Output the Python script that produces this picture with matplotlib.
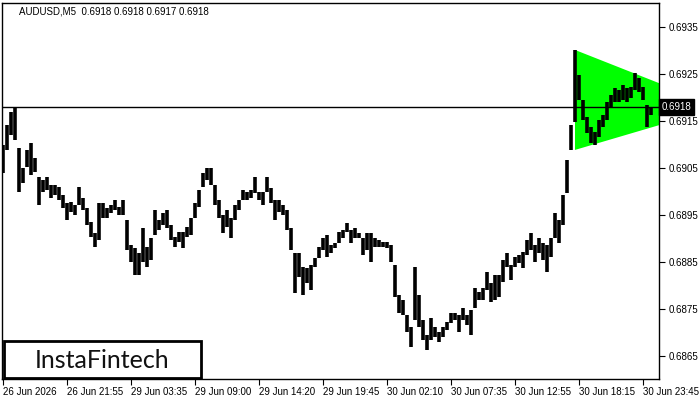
import matplotlib
matplotlib.use("Agg")
import matplotlib.pyplot as plt
from matplotlib.patches import Polygon, Rectangle
import matplotlib.transforms as mtransforms

highs = [0.69099, 0.69142, 0.69169, 0.69178, 0.69093, 0.69050, 0.69089, 0.69103, 0.69071, 0.69031,
         0.69025, 0.69031, 0.69014, 0.69014, 0.69010, 0.68993, 0.68976, 0.68978, 0.68971, 0.69010,
         0.68986, 0.68965, 0.68935, 0.68912, 0.68976, 0.68976, 0.68965, 0.68971, 0.68982, 0.68967,
         0.68982, 0.68939, 0.68886, 0.68880, 0.68869, 0.68922, 0.68882, 0.68901, 0.68961, 0.68939,
         0.68954, 0.68961, 0.68929, 0.68903, 0.68914, 0.68914, 0.68924, 0.68944, 0.68976, 0.69003,
         0.69040, 0.69050, 0.69050, 0.69014, 0.68982, 0.68950, 0.68961, 0.68944, 0.68971, 0.68982,
         0.69003, 0.68999, 0.69003, 0.69031, 0.68999, 0.68999, 0.69031, 0.69008, 0.68982, 0.68982,
         0.68971, 0.68961, 0.68922, 0.68869, 0.68869, 0.68839, 0.68837, 0.68844, 0.68858, 0.68882,
         0.68901, 0.68907, 0.68886, 0.68890, 0.68914, 0.68918, 0.68933, 0.68918, 0.68922, 0.68912,
         0.68901, 0.68912, 0.68912, 0.68901, 0.68897, 0.68893, 0.68893, 0.68886, 0.68844, 0.68780,
         0.68769, 0.68737, 0.68711, 0.68839, 0.68780, 0.68726, 0.68694, 0.68731, 0.68711, 0.68701,
         0.68711, 0.68722, 0.68741, 0.68741, 0.68737, 0.68752, 0.68737, 0.68748, 0.68795, 0.68786,
         0.68795, 0.68829, 0.68805, 0.68822, 0.68822, 0.68854, 0.68869, 0.68844, 0.68861, 0.68865,
         0.68871, 0.68897, 0.68912, 0.68886, 0.68901, 0.68890, 0.68886, 0.68901, 0.68954, 0.68939,
         0.68993, 0.69067, 0.69142, 0.69302, 0.69248, 0.69195, 0.69159, 0.69138, 0.69127, 0.69152,
         0.69163, 0.69191, 0.69206, 0.69221, 0.69216, 0.69227, 0.69221, 0.69223, 0.69252, 0.69242,
         0.69223, 0.69184, 0.69180]
lows = [0.69040, 0.69089, 0.69120, 0.69110, 0.68999, 0.69018, 0.69052, 0.69035, 0.69042, 0.68971,
        0.68999, 0.69003, 0.68986, 0.68993, 0.68982, 0.68965, 0.68939, 0.68956, 0.68950, 0.68971,
        0.68961, 0.68929, 0.68903, 0.68882, 0.68897, 0.68944, 0.68944, 0.68954, 0.68961, 0.68950,
        0.68950, 0.68876, 0.68850, 0.68822, 0.68822, 0.68850, 0.68839, 0.68854, 0.68907, 0.68918,
        0.68929, 0.68922, 0.68897, 0.68882, 0.68893, 0.68880, 0.68903, 0.68907, 0.68944, 0.68967,
        0.69010, 0.69025, 0.69014, 0.68971, 0.68944, 0.68912, 0.68924, 0.68901, 0.68939, 0.68961,
        0.68982, 0.68982, 0.68986, 0.68997, 0.68982, 0.68971, 0.68999, 0.68976, 0.68939, 0.68956,
        0.68950, 0.68918, 0.68876, 0.68784, 0.68818, 0.68780, 0.68805, 0.68790, 0.68839, 0.68858,
        0.68876, 0.68861, 0.68869, 0.68880, 0.68890, 0.68901, 0.68914, 0.68890, 0.68901, 0.68901,
        0.68865, 0.68876, 0.68850, 0.68882, 0.68882, 0.68882, 0.68880, 0.68850, 0.68775, 0.68741,
        0.68737, 0.68701, 0.68669, 0.68726, 0.68711, 0.68684, 0.68663, 0.68684, 0.68690, 0.68680,
        0.68690, 0.68705, 0.68720, 0.68726, 0.68701, 0.68726, 0.68716, 0.68694, 0.68752, 0.68769,
        0.68769, 0.68790, 0.68765, 0.68769, 0.68775, 0.68807, 0.68839, 0.68812, 0.68839, 0.68848,
        0.68837, 0.68865, 0.68876, 0.68850, 0.68869, 0.68854, 0.68829, 0.68861, 0.68901, 0.68890,
        0.68929, 0.68997, 0.69089, 0.69148, 0.69195, 0.69152, 0.69125, 0.69103, 0.69099, 0.69116,
        0.69138, 0.69152, 0.69180, 0.69191, 0.69191, 0.69195, 0.69191, 0.69199, 0.69216, 0.69212,
        0.69195, 0.69138, 0.69163]

x_labels = ['26 Jun 2026', '26 Jun 21:55', '29 Jun 03:35', '29 Jun 09:00', '29 Jun 14:20',
            '29 Jun 19:45', '30 Jun 02:10', '30 Jun 07:35', '30 Jun 12:55', '30 Jun 18:15',
            '30 Jun 23:45']
y_ticks = [0.6865, 0.6875, 0.6885, 0.6895, 0.6905, 0.6915, 0.6925, 0.6935]
last_price = 0.6918
header = 'AUDUSD,M5  0.6918 0.6918 0.6917 0.6918'

# symmetrical triangle pattern: left edge bar, top, bottom and apex
tri_start = 143
tri_top = 0.69302
tri_bottom = 0.69089
tri_apex_x = 179.25

plt.rcParams['font.family'] = ['Liberation Sans', 'DejaVu Sans']

fig = plt.figure(figsize=(7, 4), dpi=100)
ax = fig.add_axes([2 / 700, 21 / 400, 657 / 700, 376 / 400])

# green triangle
tri = Polygon([(tri_start, tri_top), (tri_apex_x, last_price), (tri_start, tri_bottom)],
              closed=True, facecolor='#00ff00', edgecolor='none', zorder=1)
ax.add_patch(tri)

# price bars
xs = list(range(len(highs)))
ax.vlines(xs, lows, highs, color='black', linewidth=2.6, zorder=3)

# last price line
ax.axhline(last_price, color='black', linewidth=1.0, zorder=4)

ax.set_xlim(-0.25, 164)
ax.set_ylim(0.68601, 0.69402)

# axes styling
for s in ax.spines.values():
    s.set_color('black')
    s.set_linewidth(1.0)

ax.yaxis.tick_right()
ax.set_yticks(y_ticks)
ax.set_yticklabels(['%.4f' % v for v in y_ticks])
ax.tick_params(axis='y', direction='out', length=4, width=0.8, labelsize=7, pad=3)

tick_pos = [16 * k for k in range(len(x_labels))]
ax.set_xticks(tick_pos)
ax.set_xticklabels(x_labels, ha='left')
ax.tick_params(axis='x', direction='out', length=4, width=0.8, labelsize=7, pad=2)

# current price marker on the right axis
trans = mtransforms.blended_transform_factory(ax.transAxes, ax.transData)
ax.text(1.004, last_price, '%.4f' % last_price, transform=trans, color='white',
        fontsize=7, va='center', ha='left', zorder=10, clip_on=False,
        bbox=dict(boxstyle='square,pad=0.3', facecolor='black', edgecolor='black'))

# header text
fig.text(19 / 700, 1 - 11 / 400, header, fontsize=7, va='center', ha='left')

# logo box
logo = Rectangle((3.5 / 700, 22 / 400), 197.5 / 700, 37 / 400, transform=fig.transFigure,
                 facecolor='white', edgecolor='black', linewidth=2.0, zorder=20)
fig.add_artist(logo)
fig.text(102 / 700, 1 - 360 / 400, 'InstaFintech', fontsize=18, family=['Lato', 'DejaVu Sans'],
         color='#111111', ha='center', va='center', zorder=21)

fig.savefig('out.png', dpi=100)
